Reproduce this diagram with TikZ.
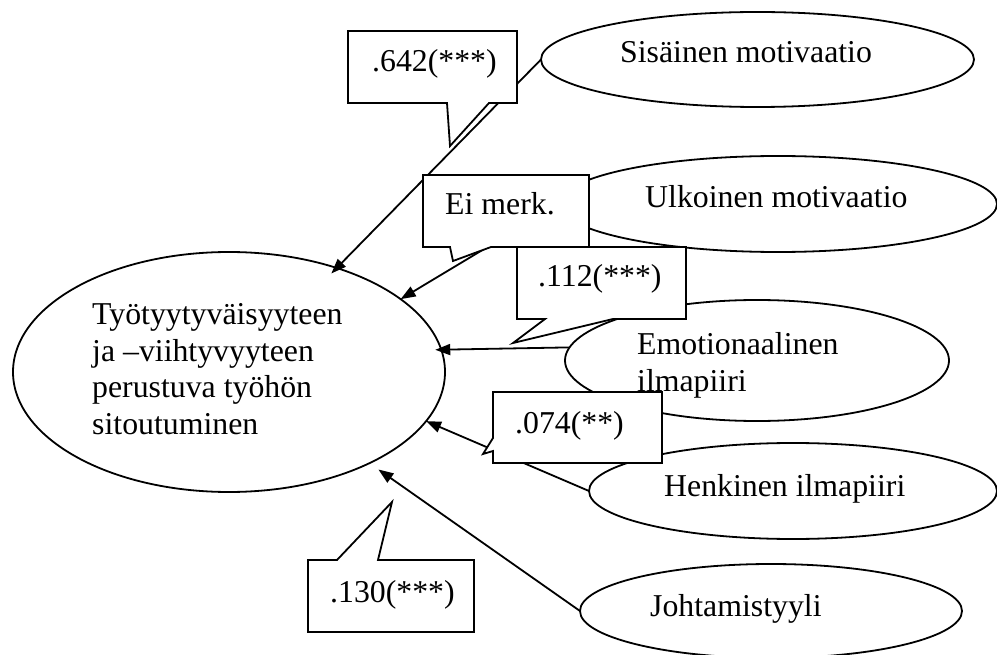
\documentclass[tikz,border=0pt]{standalone}
\usepackage{fontspec}
\setmainfont{Liberation Serif}
\usetikzlibrary{arrows.meta,shapes.geometric}
\begin{document}
\begin{tikzpicture}[x=1pt,y=-1pt,
  oval/.style={ellipse, draw, fill=white, line width=1.8pt, inner sep=0pt, outer sep=0pt},
  link/.style={line width=1.8pt, -{Triangle[length=15pt,width=11pt]}},
  bubble/.style={draw, fill=white, line width=1.8pt, line join=miter},
  lbl/.style={anchor=base west, inner sep=0pt, font=\fontsize{31.8}{36.5}\selectfont}]
\useasboundingbox (0,0) rectangle (997,655);

% construct and its antecedents
\node[oval, minimum width=432pt, minimum height=240pt] (main) at (229,372) {};
\node[oval, minimum width=433pt, minimum height=95pt]  (sis)  at (757.5,59.5) {};
\node[oval, minimum width=438pt, minimum height=96pt]  (ulk)  at (778,204) {};
\node[oval, minimum width=384pt, minimum height=121pt] (emo)  at (757,360.5) {};
\node[oval, minimum width=408pt, minimum height=96pt]  (hen)  at (793,491) {};
\node[oval, minimum width=382pt, minimum height=94pt]  (joh)  at (771,611) {};

\node[lbl] (tmain) at (92,325) {\begin{tabular}[t]{@{}l@{}}Työtyytyväisyyteen\\ ja –viihtyvyyteen\\ perustuva työhön\\ sitoutuminen\end{tabular}};
\node[lbl] (tsis) at (620,63) {Sisäinen motivaatio};
\node[lbl] (tulk) at (645,208) {Ulkoinen motivaatio};
\node[lbl] (temo) at (637,355) {\begin{tabular}[t]{@{}l@{}}Emotionaalinen\\ ilmapiiri\end{tabular}};
\node[lbl] (then) at (664,496) {Henkinen ilmapiiri};
\node[lbl] (tjoh) at (650,616) {Johtamistyyli};

% paths
\draw[link, shorten >=-7.7pt] (sis.west) -- (main.44.4);
\draw[link] (ulk.west) -- (main.23.4);
\draw[link, shorten >=-6pt] (emo.176.3) -- (main.6.3);
\draw[link] (hen.west) -- (main.-14.3);
\draw[link, shorten >=11pt] (joh.west) -- (main.-33.5);

% coefficient callouts
\filldraw[bubble] (348,31) -- (517,31) -- (517,103) -- (489,103) -- (450,146) -- (447,103) -- (348,103) -- cycle;
\node[lbl] (c1) at (372,72) {.642(***)};

\filldraw[bubble] (423,175) -- (589,175) -- (589,247) -- (491,247) -- (453,261) -- (450,247) -- (423,247) -- cycle;
\node[lbl] (c2) at (445,215) {Ei merk.};

\filldraw[bubble] (517,247) -- (686,247) -- (686,319) -- (613,319) -- (513,343) -- (545,319) -- (517,319) -- cycle;
\node[lbl] (c3) at (538,287) {.112(***)};

\filldraw[bubble] (493,392) -- (662,392) -- (662,463) -- (493,463) -- (493,451) -- (483,454) -- (493,438) -- cycle;
\node[lbl] (c4) at (515,433) {.074(**)};

\filldraw[bubble] (308,560) -- (337,560) -- (392,502) -- (378,560) -- (474,560) -- (474,632) -- (308,632) -- cycle;
\node[lbl] (c5) at (330,602) {.130(***)};
\end{tikzpicture}
\end{document}
